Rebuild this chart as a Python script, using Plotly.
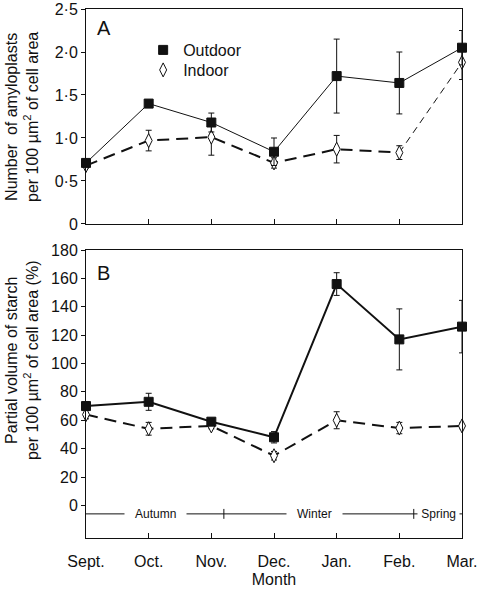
import plotly.graph_objects as go

months = ["Sept.", "Oct.", "Nov.", "Dec.", "Jan.", "Feb.", "Mar."]
xpos = [0, 1, 2, 3, 4, 5, 6]

amy_out = [0.71, 1.40, 1.18, 0.84, 1.72, 1.64, 2.05]
amy_out_err = [0.03, 0.03, 0.11, 0.16, 0.43, 0.36, 0.20]
amy_in = [0.68, 0.97, 1.01, 0.71, 0.87, 0.83, 1.88]
amy_in_err = [0.03, 0.12, 0.21, 0.06, 0.16, 0.08, 0.20]

vol_out = [70, 73, 59, 48, 156, 117, 126]
vol_out_err = [3, 6, 2, 4, 8, 21.5, 18.5]
vol_in = [64, 54, 56, 35, 60, 54.5, 56]
vol_in_err = [3, 4.5, 2, 3, 6, 4, 2]

top_ticks = [0, 0.5, 1.0, 1.5, 2.0, 2.5]
top_ticktext = ["0", "0·5", "1·0", "1·5", "2·0", "2·5"]
bot_ticks = [0, 20, 40, 60, 80, 100, 120, 140, 160, 180]

seasons = ["Autumn", "Winter", "Spring"]
season_pad = [3, 3, 1]
season_centers = [1.11, 3.65, 5.63]
season_bounds = [2.2, 5.23]
season_y = -6

FONT = "Liberation Sans, Arial, Helvetica, sans-serif"
BLACK = "#111"

fig = go.Figure()

def err(e):
    return dict(type="data", array=e, visible=True, color=BLACK, thickness=1, width=3)

sq = dict(symbol="square", size=9, color=BLACK, line=dict(color=BLACK, width=1))
dm = dict(symbol="diamond-tall", size=10, color="white", line=dict(color=BLACK, width=1))

# Panel A
fig.add_trace(go.Scatter(x=xpos[5:], y=amy_in[5:], mode="lines",
                         line=dict(color=BLACK, width=1, dash="7px,5px"),
                         xaxis="x", yaxis="y", showlegend=False, cliponaxis=False))
fig.add_trace(go.Scatter(x=xpos[:6], y=amy_in[:6], mode="lines",
                         line=dict(color=BLACK, width=2, dash="12px,7px"),
                         xaxis="x", yaxis="y", showlegend=False, cliponaxis=False))
fig.add_trace(go.Scatter(x=xpos, y=amy_in, mode="markers", marker=dm, error_y=err(amy_in_err),
                         xaxis="x", yaxis="y", showlegend=False, cliponaxis=False))
fig.add_trace(go.Scatter(x=xpos, y=amy_out, mode="lines+markers",
                         line=dict(color=BLACK, width=1), marker=sq, error_y=err(amy_out_err),
                         xaxis="x", yaxis="y", showlegend=False, cliponaxis=False))

# legend entries (two separate legends for exact row placement)
fig.add_trace(go.Scatter(x=[None], y=[None], mode="markers", marker=sq, name="Outdoor",
                         xaxis="x", yaxis="y", legend="legend"))
fig.add_trace(go.Scatter(x=[None], y=[None], mode="markers", marker=dm,
                         name="Indoor", xaxis="x", yaxis="y", legend="legend2"))

# Panel B
fig.add_trace(go.Scatter(x=xpos, y=vol_in, mode="lines+markers",
                         line=dict(color=BLACK, width=2, dash="12px,7px"), marker=dm,
                         error_y=err(vol_in_err),
                         xaxis="x2", yaxis="y2", showlegend=False, cliponaxis=False))
fig.add_trace(go.Scatter(x=xpos, y=vol_out, mode="lines+markers",
                         line=dict(color=BLACK, width=2), marker=sq, error_y=err(vol_out_err),
                         xaxis="x2", yaxis="y2", showlegend=False, cliponaxis=False))

# season bar
fig.add_trace(go.Scatter(x=[xpos[0], xpos[-1]], y=[season_y, season_y], mode="lines",
                         line=dict(color=BLACK, width=1), xaxis="x2", yaxis="y2",
                         showlegend=False, hoverinfo="skip"))
for b in season_bounds:
    fig.add_shape(type="line", xref="x2", yref="y2", x0=b, x1=b,
                  y0=season_y - 3.5, y1=season_y + 3.5, line=dict(color=BLACK, width=1))
for s, c, p in zip(seasons, season_centers, season_pad):
    pad = "&nbsp;" * p
    fig.add_annotation(x=c, y=season_y, xref="x2", yref="y2", text=pad + s + pad,
                       showarrow=False, bgcolor="white", borderpad=0,
                       font=dict(family=FONT, size=12, color=BLACK))

axis_common = dict(showline=True, linecolor=BLACK, linewidth=1, mirror=True,
                   showgrid=False, zeroline=False, automargin=False)

legend_common = dict(xanchor="left", yanchor="middle",
                     font=dict(family=FONT, size=16, color=BLACK),
                     bgcolor="rgba(0,0,0,0)", itemwidth=30, tracegroupgap=0)

fig.update_layout(
    width=481, height=589,
    margin=dict(l=86, r=19, t=9, b=51, autoexpand=False),
    paper_bgcolor="white", plot_bgcolor="white",
    font=dict(family=FONT, size=16, color=BLACK),
    showlegend=True,
    legend=dict(x=0.152, y=(538 - 50) / 529, **legend_common),
    legend2=dict(x=0.152, y=(538 - 70) / 529, **legend_common),
    xaxis=dict(domain=[0, 1], range=[0, 6], anchor="y", tickvals=[1, 2, 3, 4, 5],
               showticklabels=False, ticks="inside", ticklen=5, tickcolor=BLACK, **axis_common),
    yaxis=dict(domain=[0.5936, 1], range=[0, 2.5], anchor="x", tickvals=top_ticks,
               ticktext=top_ticktext, ticks="outside", ticklen=4, tickcolor=BLACK,
               tickfont=dict(size=16), **axis_common),
    xaxis2=dict(domain=[0, 1], range=[0, 6], anchor="y2", tickvals=xpos, ticktext=months,
                ticks="inside", ticklen=5, tickcolor=BLACK, tickfont=dict(size=16),
                ticklabelstandoff=9,
                title=dict(text="Month", font=dict(size=16), standoff=4), **axis_common),
    yaxis2=dict(domain=[0, 0.5444], range=[-23, 180], anchor="x2", tickvals=bot_ticks,
                ticks="outside", ticklen=4, tickcolor=BLACK, tickfont=dict(size=16),
                **axis_common),
)

# y-axis titles
fig.add_annotation(x=-0.170, y=0.796, xref="paper", yref="paper", textangle=-90,
                   text="Number  of amyloplasts<br>per 100 µm<sup>2</sup> of cell area",
                   showarrow=False, xanchor="center", yanchor="middle",
                   font=dict(family=FONT, size=16, color=BLACK))
fig.add_annotation(x=-0.170, y=0.3365, xref="paper", yref="paper", textangle=-90,
                   text="Partial volume of starch<br>per 100 µm<sup>2</sup> of cell area (%)",
                   showarrow=False, xanchor="center", yanchor="middle",
                   font=dict(family=FONT, size=16, color=BLACK))

fig.add_annotation(x=0.025, y=0.965, xref="paper", yref="paper", text="A", showarrow=False,
                   xanchor="left", yanchor="middle", font=dict(family=FONT, size=20, color=BLACK))
fig.add_annotation(x=0.025, y=0.501, xref="paper", yref="paper", text="B", showarrow=False,
                   xanchor="left", yanchor="middle", font=dict(family=FONT, size=20, color=BLACK))

fig.write_html("out.html", config={"displayModeBar": False},
               post_script="document.body.style.margin='0';")
